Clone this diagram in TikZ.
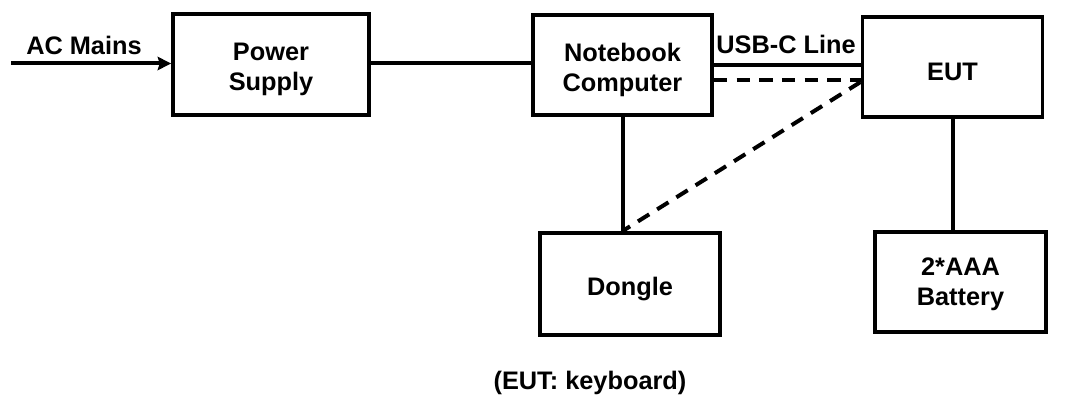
\documentclass[tikz,border=0pt]{standalone}
\usepackage{fontspec}
\setmainfont{Liberation Sans}
\usetikzlibrary{arrows.meta}
\begin{document}
\begin{tikzpicture}[x=0.75pt,y=-0.75pt,
  blk/.style={draw, line width=2.9pt, inner sep=0pt},
  lbl/.style={font=\fontsize{19}{22.5}\selectfont\bfseries, align=center, inner sep=0pt},
  inbox/.style={lbl, yshift=-3.5pt},
  wire/.style={line width=3pt},
  dwire/.style={line width=3pt, dash pattern=on 10pt off 7pt}]
\useasboundingbox (0,0) rectangle (1086,399);
\node[blk, minimum width=196*0.75pt, minimum height=101*0.75pt] (ps) at (271,64.5) {};
\node[blk, minimum width=179*0.75pt, minimum height=100*0.75pt] (nb) at (622.5,65) {};
\node[blk, minimum width=180*0.75pt, minimum height=100*0.75pt] (eut) at (952.5,67) {};
\node[blk, minimum width=180*0.75pt, minimum height=102*0.75pt] (dg) at (630,284) {};
\node[blk, minimum width=171*0.75pt, minimum height=100*0.75pt] (bat) at (960.5,282) {};
\node[inbox] at (ps.center) {Power\\Supply};
\node[inbox] at (nb.center) {Notebook\\Computer};
\node[inbox] at (eut.center) {EUT};
\node[inbox] at (dg.center) {Dongle};
\node[lbl, yshift=-1.5pt] at (bat.center) {2*AAA\\Battery};
\coordinate (ac) at (11,63.5);
\node[lbl, anchor=base] (acl) at (84,55) {AC Mains};
\node[lbl, anchor=base] (usb) at (786,54) {USB-C Line};
\node[lbl, anchor=base] (cap) at (590,389) {(EUT: keyboard)};
\draw[wire, -{Stealth[length=10pt,width=10pt,inset=1.5pt]}] (ac) -- (ac -| ps.west);
\draw[wire] (ps.east |- 0,63) -- (nb.west |- 0,63);
\draw[wire] (nb.east |- 0,65.5) -- (eut.west |- 0,65.5);
\draw[dwire] (nb.east |- 0,80) -- (eut.west |- 0,80);
\draw[dwire] (eut.west |- 0,82) -- (dg.north -| nb.south);
\draw[wire] (nb.south) -- (dg.north -| nb.south);
\draw[wire] (eut.south -| 953,0) -- (bat.north -| 953,0);
\end{tikzpicture}
\end{document}
